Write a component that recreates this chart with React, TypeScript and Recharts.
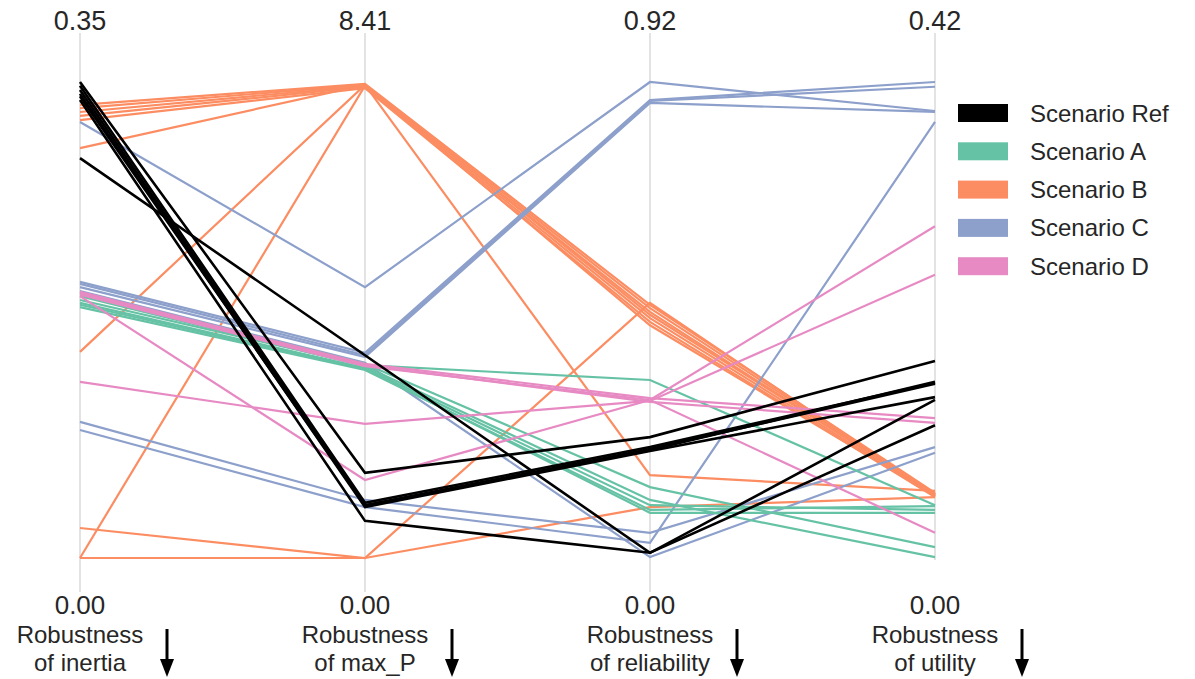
import React from 'react';
import { LineChart, Line, XAxis, YAxis, ReferenceLine } from 'recharts';

// Parallel coordinates: each line is [inertia, max_P, reliability, utility],
// given as a share of that axis' max (0 = bottom, 1 = top)
const axisNames = [
  ['Robustness', 'of inertia'],
  ['Robustness', 'of max_P'],
  ['Robustness', 'of reliability'],
  ['Robustness', 'of utility'],
];
const axisMax = ['0.35', '8.41', '0.92', '0.42'];
const axisMin = ['0.00', '0.00', '0.00', '0.00'];

const refLines = [
  [1.0, 0.179, 0.254, 0.414],
  [0.992, 0.116, 0.233, 0.368],
  [0.983, 0.111, 0.229, 0.366],
  [0.975, 0.107, 0.225, 0.338],
  [0.97, 0.11, 0.227, 0.37],
  [0.962, 0.078, 0.011, 0.279],
  [0.84, 0.426, 0.011, 0.332],
];

const scenALines = [
  [0.542, 0.405, 0.374, 0.111],
  [0.557, 0.408, 0.149, 0.023],
  [0.55, 0.403, 0.122, 0.002],
  [0.536, 0.399, 0.111, 0.101],
  [0.527, 0.395, 0.101, 0.109],
  [0.532, 0.397, 0.095, 0.095],
];

const scenBLines = [
  [0.952, 0.996, 0.532, 0.137],
  [0.945, 0.994, 0.525, 0.134],
  [0.937, 0.992, 0.517, 0.132],
  [0.929, 0.99, 0.504, 0.13],
  [0.92, 0.987, 0.496, 0.128],
  [0.861, 0.994, 0.511, 0.134],
  [0.433, 0.994, 0.174, 0.141],
  [0.0, 0.992, 0.489, 0.13],
  [0.063, 0.0, 0.536, 0.132],
  [0.0, 0.0, 0.107, 0.128],
];

const scenCLines = [
  [0.916, 0.569, 1.0, 0.939],
  [0.58, 0.431, 0.962, 1.0],
  [0.576, 0.426, 0.96, 0.99],
  [0.569, 0.422, 0.956, 0.937],
  [0.286, 0.122, 0.053, 0.233],
  [0.269, 0.107, 0.032, 0.916],
  [0.561, 0.41, 0.002, 0.221],
];

const scenDLines = [
  [0.559, 0.408, 0.336, 0.294],
  [0.553, 0.403, 0.332, 0.053],
  [0.55, 0.164, 0.332, 0.697],
  [0.37, 0.282, 0.33, 0.595],
  [0.557, 0.405, 0.328, 0.284],
];

const scenarios = [
  { name: 'Scenario Ref', color: '#000000', lines: refLines },
  { name: 'Scenario A', color: '#66c2a5', lines: scenALines },
  { name: 'Scenario B', color: '#fc8d62', lines: scenBLines },
  { name: 'Scenario C', color: '#8da0cb', lines: scenCLines },
  { name: 'Scenario D', color: '#e78ac3', lines: scenDLines },
];

// draw order (last on top)
const drawOrder = [2, 3, 1, 4, 0];

const W = 1195;
const H = 679;
const axisX = [80, 365, 650, 935];
const textColor = '#262626';
const font = '"Liberation Sans", Arial, sans-serif';

const rows = [0, 1, 2, 3].map((i) => {
  const row: Record<string, number> = { idx: i };
  scenarios.forEach((s, si) => {
    s.lines.forEach((l, li) => {
      row[`s${si}_${li}`] = l[i];
    });
  });
  return row;
});

const Arrow = ({ x }: { x: number }) => (
  <g>
    <line x1={x} y1={629} x2={x} y2={662} stroke="#000" strokeWidth={3} />
    <polygon points={`${x - 7},${659} ${x + 7},${659} ${x},${677}`} fill="#000" />
  </g>
);

export default function App() {
  return (
    <div style={{ position: 'absolute', left: 0, top: 0, width: W, height: H, background: '#fff' }}>
      <LineChart
        width={W}
        height={H}
        data={rows}
        margin={{ top: 33, right: W - 935, bottom: H - 592, left: 80 }}
      >
        <XAxis type="number" dataKey="idx" domain={[0, 3]} hide />
        <YAxis type="number" domain={[-0.0714, 1.1029]} allowDataOverflow hide />
        {[0, 1, 2, 3].map((i) => (
          <ReferenceLine
            key={i}
            segment={[
              { x: i, y: i === 3 ? -0.004 : -0.0714 },
              { x: i, y: 1.1029 },
            ]}
            stroke="#d0d0d0"
            strokeWidth={1.2}
          />
        ))}
        {drawOrder.map((si) =>
          scenarios[si].lines.map((_, li) => (
            <Line
              key={`s${si}_${li}`}
              dataKey={`s${si}_${li}`}
              stroke={scenarios[si].color}
              strokeWidth={si === 0 ? 2.6 : 2.2}
              dot={false}
              activeDot={false}
              isAnimationActive={false}
            />
          ))
        )}
      </LineChart>
      <svg
        width={W}
        height={H}
        style={{ position: 'absolute', left: 0, top: 0, pointerEvents: 'none' }}
        fontFamily={font}
      >
        {axisX.map((x, i) => (
          <g key={i}>
            <text x={x} y={30} fontSize={27} fill={textColor} textAnchor="middle">
              {axisMax[i]}
            </text>
            <text x={x} y={614} fontSize={26} fill={textColor} textAnchor="middle">
              {axisMin[i]}
            </text>
            <text x={x} y={643} fontSize={24} fill={textColor} textAnchor="middle">
              {axisNames[i][0]}
            </text>
            <text x={x} y={671} fontSize={24} fill={textColor} textAnchor="middle">
              {axisNames[i][1]}
            </text>
            <Arrow x={x + 87} />
          </g>
        ))}
        {scenarios.map((s, i) => {
          const cy = 113 + i * 38.3;
          return (
            <g key={s.name}>
              <rect x={958} y={cy - 9} width={50} height={18} fill={s.color} />
              <text x={1030} y={cy + 8.5} fontSize={24} fill={textColor}>
                {s.name}
              </text>
            </g>
          );
        })}
      </svg>
    </div>
  );
}
